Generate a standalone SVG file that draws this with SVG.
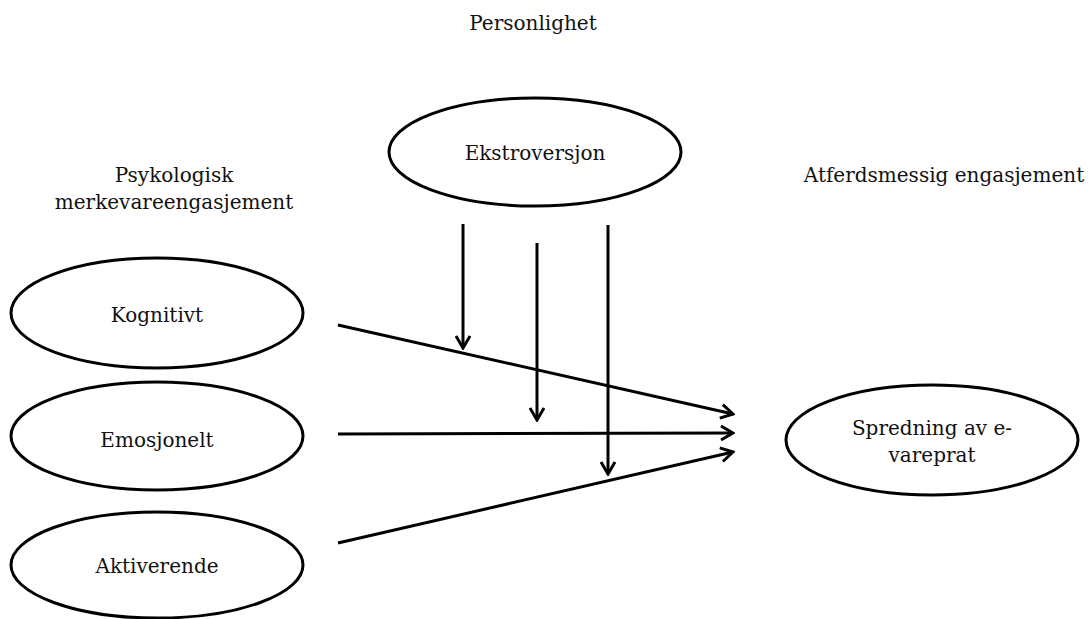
<svg xmlns="http://www.w3.org/2000/svg" width="1090" height="619" viewBox="0 0 1090 619">
<style>
.node{fill:#fff;stroke:#000;stroke-width:3}
.t{font-family:"DejaVu Serif","Liberation Serif",serif;font-size:20px;fill:#111;text-anchor:middle}
.c{stroke:#000;stroke-width:3;fill:none;marker-end:url(#ah)}
</style>
<defs>
<marker id="ah" markerUnits="userSpaceOnUse" viewBox="-14 -9 16 18" refX="0" refY="0" markerWidth="16" markerHeight="18" orient="auto">
<path d="M-12,-7 L0,0 L-12,7" fill="none" stroke="#000" stroke-width="3"/>
</marker>
</defs>
<rect width="1090" height="619" fill="#fff"/>
<text class="t" x="533" y="30">Personlighet</text>
<text class="t" x="174" y="182">Psykologisk</text>
<text class="t" x="174" y="209">merkevareengasjement</text>
<text class="t" x="944" y="182">Atferdsmessig engasjement</text>
<g id="ekstroversjon"><ellipse class="node" cx="535" cy="152" rx="146" ry="54"/><text class="t" x="535" y="160">Ekstroversjon</text></g>
<g id="kognitivt"><ellipse class="node" cx="157" cy="313" rx="146" ry="55"/><text class="t" x="157" y="322">Kognitivt</text></g>
<g id="emosjonelt"><ellipse class="node" cx="157" cy="436" rx="146" ry="54"/><text class="t" x="157" y="447">Emosjonelt</text></g>
<g id="aktiverende"><ellipse class="node" cx="157" cy="565" rx="146" ry="53"/><text class="t" x="157" y="573">Aktiverende</text></g>
<g id="spredning"><ellipse class="node" cx="932" cy="440" rx="146" ry="55"/><text class="t" x="932" y="435">Spredning av e-</text><text class="t" x="932" y="462">vareprat</text></g>
<g id="connectors">
<path class="c" d="M338,325 L733,414"/>
<path class="c" d="M338,434 L733,433"/>
<path class="c" d="M338,543 L733,452"/>
<path class="c" d="M463,224 L463,348"/>
<path class="c" d="M537,243 L537,420"/>
<path class="c" d="M608,225 L608,474"/>
</g>
</svg>
